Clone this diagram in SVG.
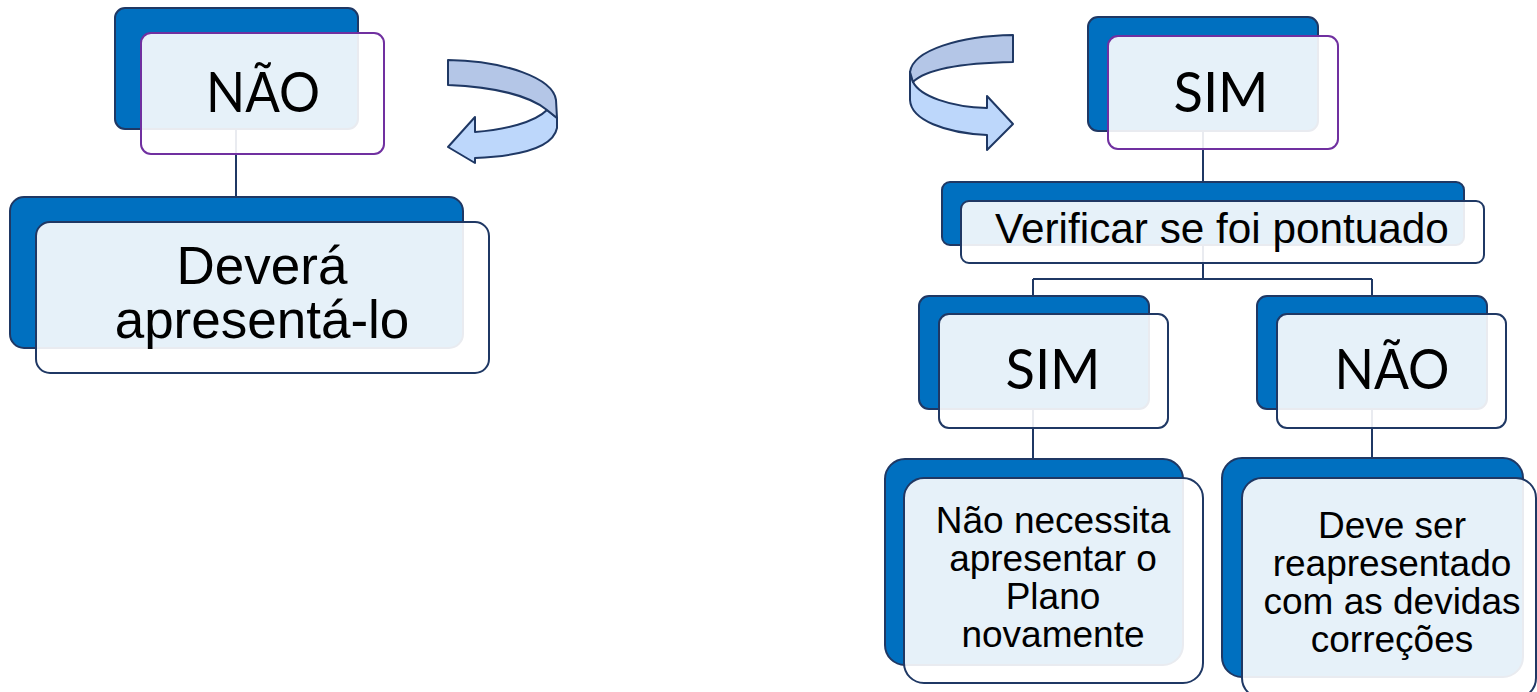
<svg xmlns="http://www.w3.org/2000/svg" width="1537" height="692" viewBox="0 0 1537 692">
<style>
.back{fill:#0070c0;stroke:#1f3864;stroke-width:2}
.front{fill:#ffffff;fill-opacity:0.9;stroke:#1f3864;stroke-width:2}
.frontp{fill:#ffffff;fill-opacity:0.9;stroke:#7030a0;stroke-width:2}
.conn{stroke:#1f3864;stroke-width:2;fill:none}
.cal{font-family:Lato,"Open Sans",sans-serif;font-size:57px;fill:#000;text-anchor:middle}
.ar{font-family:"Liberation Sans",Arial,sans-serif;fill:#000;text-anchor:middle}
.bandb{fill:#b4c6e7;stroke:#1f3864;stroke-width:2;stroke-linejoin:round}
.bandf{fill:#bdd7fb;stroke:#1f3864;stroke-width:2;stroke-linejoin:round}
</style>
<g id="connectors">
<path class="conn" d="M236,129 V197"/>
<path class="conn" d="M1203,131 V182"/>
<path class="conn" d="M1203,245 V279 M1033,279 H1372 M1033,279 V296 M1372,279 V296"/>
<path class="conn" d="M1033,409 V459 M1372,409 V458"/>
</g>
<g id="arrow-left">
<path class="bandf" d="M547,110 L557,118 L557,128 C553,148 520,156 475,158 L475,163 L448,147 L475,117 L475,132 C505,130 535,122 547,110 Z"/>
<path class="bandb" d="M448,60 C505,61 553,78 556,100 L557,118 L547,110 C530,96 495,87 448,85 Z"/>
</g>
<g id="arrow-right">
<path class="bandf" d="M910,72 L910,100 C911,120 945,133 987,135 L987,150 L1013,124 L987,96 L987,108 C950,107 920,96 913,82 Z"/>
<path class="bandb" d="M1013,35 C960,36 913,50 910,72 L913,82 C925,70 960,63 1013,62 Z"/>
</g>
<g id="node-nao-top">
<rect class="back" x="115" y="8" width="243" height="121" rx="10"/>
<rect class="frontp" x="141" y="33" width="243" height="121" rx="10"/>
<text class="cal" x="263" y="112" textLength="114" lengthAdjust="spacingAndGlyphs">NÃO</text>
</g>
<g id="node-devera">
<rect class="back" x="10" y="197" width="453" height="151" rx="14"/>
<rect class="front" x="36" y="222" width="453" height="151" rx="14"/>
<text class="ar" font-size="53" x="262" y="284">Deverá</text>
<text class="ar" font-size="53" x="262" y="338">apresentá-lo</text>
</g>
<g id="node-sim-top">
<rect class="back" x="1088" y="17" width="230" height="114" rx="10"/>
<rect class="frontp" x="1108" y="36" width="230" height="113" rx="10"/>
<text class="cal" x="1221" y="112" textLength="95" lengthAdjust="spacingAndGlyphs">SIM</text>
</g>
<g id="node-verificar">
<rect class="back" x="942" y="182" width="522" height="63" rx="8"/>
<rect class="front" x="961" y="201" width="523" height="62" rx="8"/>
<text class="ar" font-size="42.3" x="1222" y="243">Verificar se foi pontuado</text>
</g>
<g id="node-sim-child">
<rect class="back" x="919" y="296" width="230" height="113" rx="10"/>
<rect class="front" x="939" y="314" width="229" height="114" rx="10"/>
<text class="cal" x="1053" y="389" textLength="95" lengthAdjust="spacingAndGlyphs">SIM</text>
</g>
<g id="node-nao-child">
<rect class="back" x="1257" y="296" width="230" height="113" rx="10"/>
<rect class="front" x="1277" y="314" width="229" height="114" rx="10"/>
<text class="cal" x="1392" y="389" textLength="115" lengthAdjust="spacingAndGlyphs">NÃO</text>
</g>
<g id="node-nao-necessita">
<rect class="back" x="885" y="459" width="298" height="206" rx="20"/>
<rect class="front" x="904" y="478" width="299" height="205" rx="20"/>
<text class="ar" font-size="37" x="1053" y="533">Não necessita</text>
<text class="ar" font-size="37" x="1053" y="571">apresentar o</text>
<text class="ar" font-size="37" x="1053" y="609">Plano</text>
<text class="ar" font-size="37" x="1053" y="647">novamente</text>
</g>
<g id="node-deve-ser">
<rect class="back" x="1222" y="458" width="301" height="219" rx="20"/>
<rect class="front" x="1242" y="478" width="294" height="220" rx="20"/>
<text class="ar" font-size="37" x="1392" y="538">Deve ser</text>
<text class="ar" font-size="37" x="1392" y="576">reapresentado</text>
<text class="ar" font-size="37" x="1392" y="614">com as devidas</text>
<text class="ar" font-size="37" x="1392" y="652">correções</text>
</g>
</svg>
